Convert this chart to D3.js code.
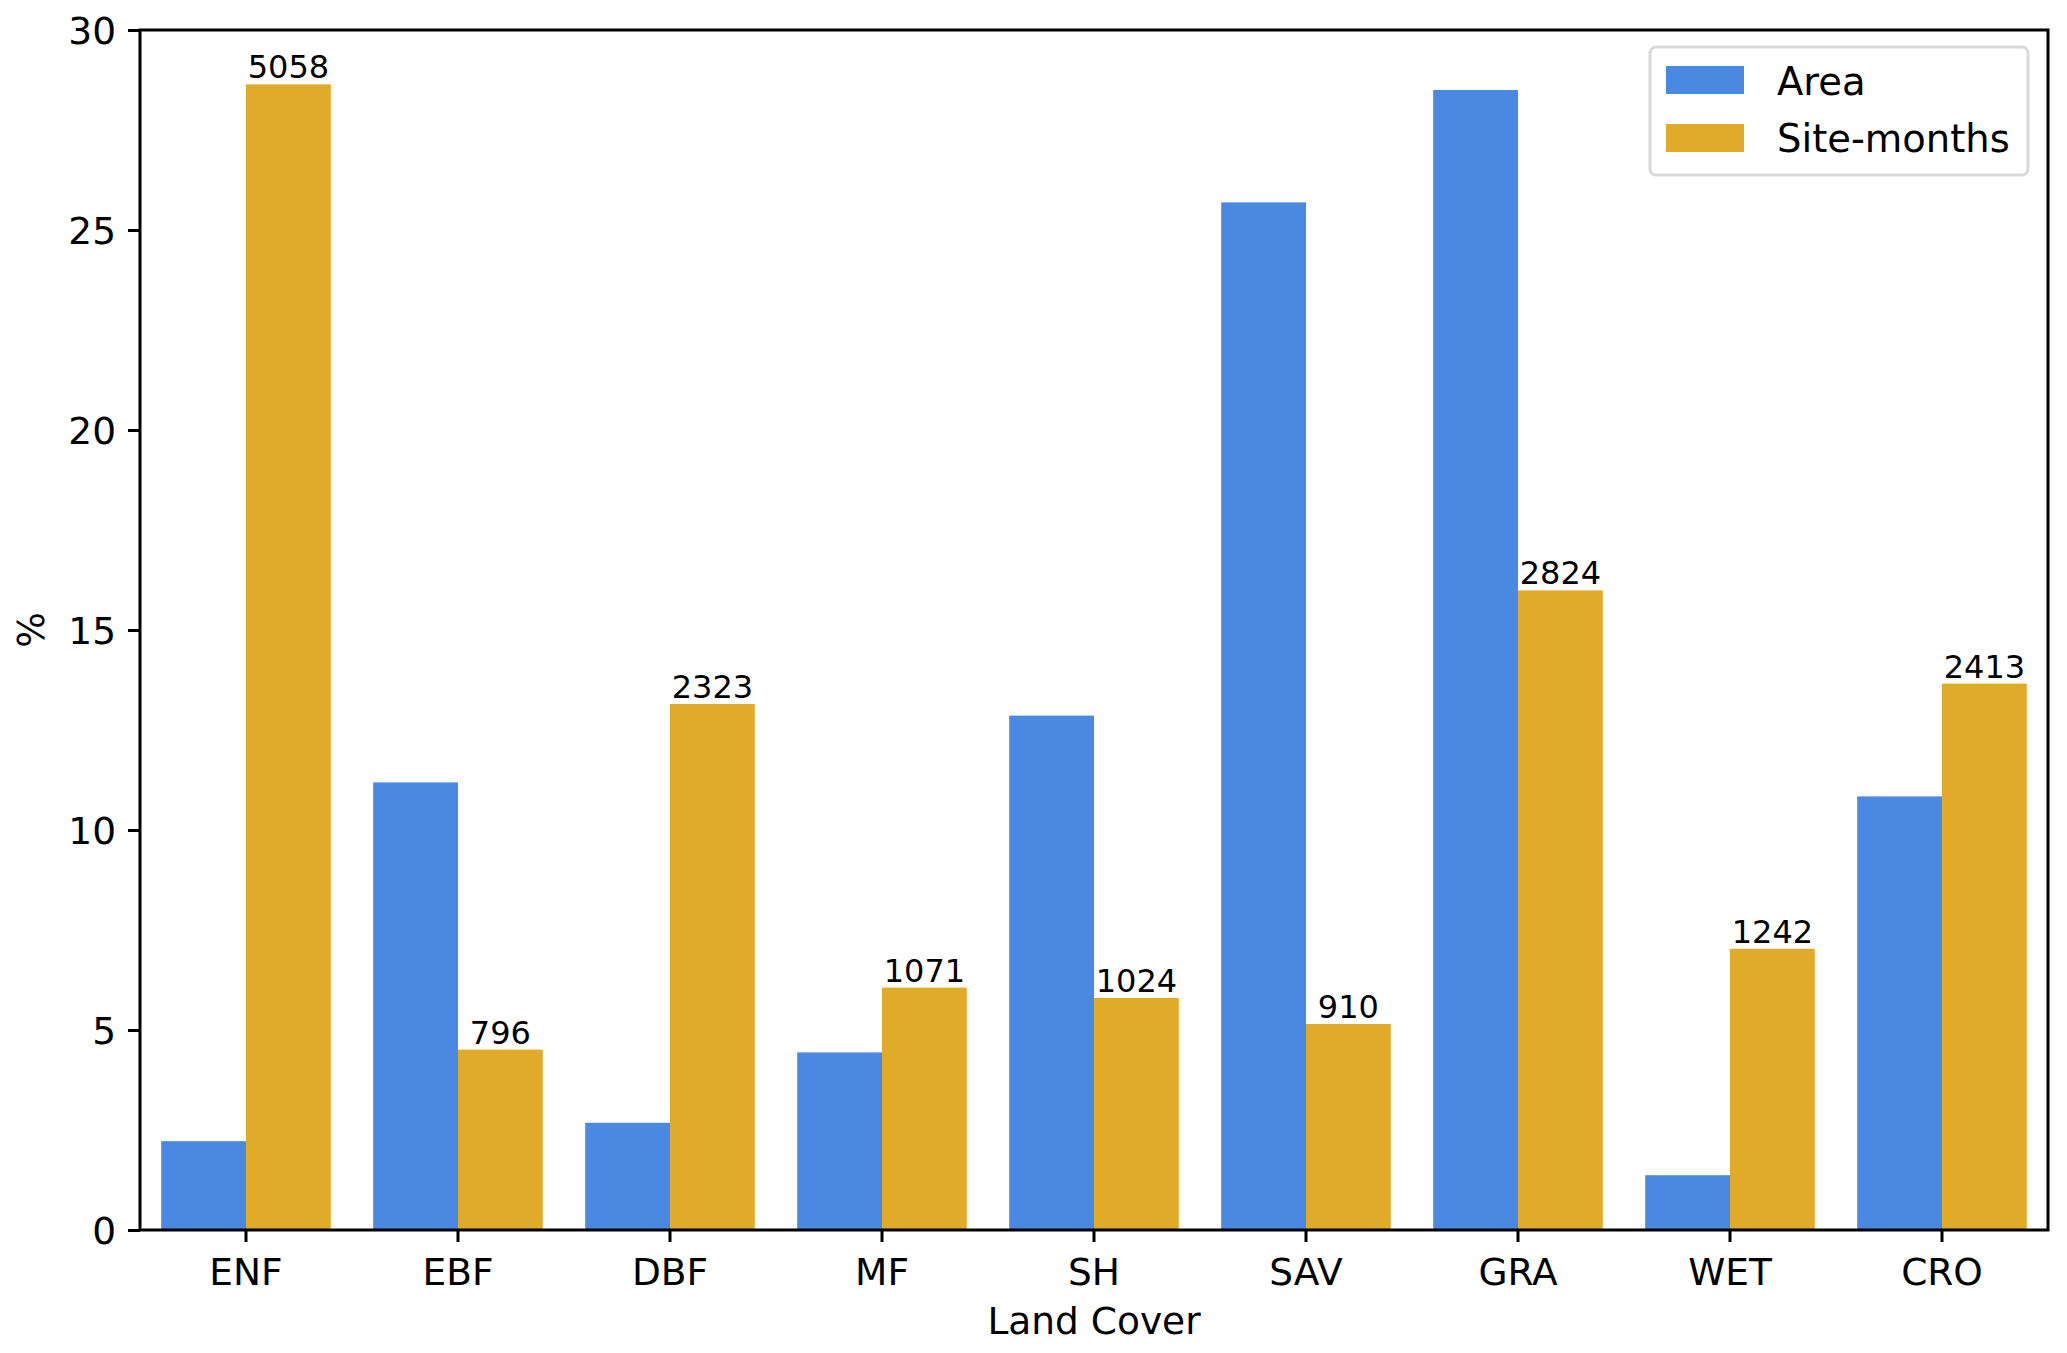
<!DOCTYPE html>
<html>
<head>
<meta charset="utf-8">
<script src="https://cdn.jsdelivr.net/npm/d3@7"></script>
<style>
  body { margin: 0; background: #fff; }
  svg { font-family: "DejaVu Sans", sans-serif; }
</style>
</head>
<body>
<div id="chart"></div>
<script>
// land cover classes
var categories = ["ENF", "EBF", "DBF", "MF", "SH", "SAV", "GRA", "WET", "CRO"];
// % of area per class
var areaPct = [2.22, 11.19, 2.68, 4.44, 12.86, 25.69, 28.5, 1.37, 10.84];
// % of site-months per class
var sitePct = [28.64, 4.51, 13.15, 6.06, 5.8, 5.15, 15.99, 7.03, 13.66];
// number of site-months, printed over the gold bars
var siteCounts = [5058, 796, 2323, 1071, 1024, 910, 2824, 1242, 2413];
var series = ["Area", "Site-months"];
var yTicks = [0, 5, 10, 15, 20, 25, 30];

var width = 2067, height = 1353;
var margin = {top: 30, right: 19, bottom: 123, left: 140};
var colors = {"Area": "#4a89e2", "Site-months": "#e0ab28"};

var svg = d3.select("#chart").append("svg")
    .attr("width", width)
    .attr("height", height);

var g = svg.append("g")
    .attr("transform", "translate(" + margin.left + "," + margin.top + ")");

var w = width - margin.left - margin.right,
    h = height - margin.top - margin.bottom;

var x = d3.scaleBand().domain(categories).range([0, w]).paddingInner(0.2).paddingOuter(0.1);
var x1 = d3.scaleBand().domain(series).range([0, x.bandwidth()]);
var y = d3.scaleLinear().domain([0, 30]).range([h, 0]);

var rows = categories.map(function (c, i) {
    return {cat: c, vals: [
        {key: "Area", v: areaPct[i]},
        {key: "Site-months", v: sitePct[i], n: siteCounts[i]}
    ]};
});

var grp = g.selectAll(".grp")
    .data(rows)
    .enter().append("g")
    .attr("transform", function (d) { return "translate(" + x(d.cat) + ",0)"; });

grp.selectAll("rect")
    .data(function (d) { return d.vals; })
    .enter().append("rect")
    .attr("x", function (d) { return x1(d.key); })
    .attr("y", function (d) { return y(d.v); })
    .attr("width", x1.bandwidth())
    .attr("height", function (d) { return h - y(d.v); })
    .attr("fill", function (d) { return colors[d.key]; });

// count labels on site-month bars
grp.append("text")
    .attr("x", x1("Site-months") + x1.bandwidth() / 2)
    .attr("y", function (d) { return y(d.vals[1].v) - 6; })
    .attr("text-anchor", "middle")
    .attr("font-size", 32)
    .text(function (d) { return d.vals[1].n; });

// axes
var xAxis = g.append("g")
    .attr("transform", "translate(0," + h + ")")
    .call(d3.axisBottom(x).tickSizeOuter(0).tickSize(12).tickPadding(10));
var yAxis = g.append("g")
    .call(d3.axisLeft(y).tickValues(yTicks).tickSizeOuter(0).tickSize(12).tickPadding(12));

[xAxis, yAxis].forEach(function (a) {
    a.selectAll("text").attr("font-size", 37.5).attr("fill", "#000").attr("font-family", "DejaVu Sans");
    a.selectAll("line").attr("stroke", "#000").attr("stroke-width", 3);
    a.select(".domain").remove();
});
xAxis.selectAll("text").attr("dy", "0.88em");
yAxis.selectAll("text").attr("dy", "0.36em");

// frame
g.append("rect")
    .attr("width", w).attr("height", h)
    .attr("fill", "none").attr("stroke", "#000").attr("stroke-width", 3);

// axis titles
g.append("text")
    .attr("x", w / 2).attr("y", h + 104)
    .attr("text-anchor", "middle").attr("font-size", 37.5)
    .text("Land Cover");
svg.append("text")
    .attr("transform", "translate(44," + (margin.top + h / 2) + ") rotate(-90)")
    .attr("text-anchor", "middle").attr("font-size", 37.5)
    .text("%");

// legend
var lg = svg.append("g").attr("transform", "translate(1650,47)");
lg.append("rect")
    .attr("width", 378).attr("height", 128).attr("rx", 6)
    .attr("fill", "#fff").attr("stroke", "#d9d9d9").attr("stroke-width", 3);
series.forEach(function (s, i) {
    lg.append("rect")
        .attr("x", 16).attr("y", 19 + i * 58)
        .attr("width", 78).attr("height", 28)
        .attr("fill", colors[s]);
    lg.append("text")
        .attr("x", 127).attr("y", 48 + i * 57)
        .attr("font-size", 38.5)
        .text(s);
});
</script>
</body>
</html>
